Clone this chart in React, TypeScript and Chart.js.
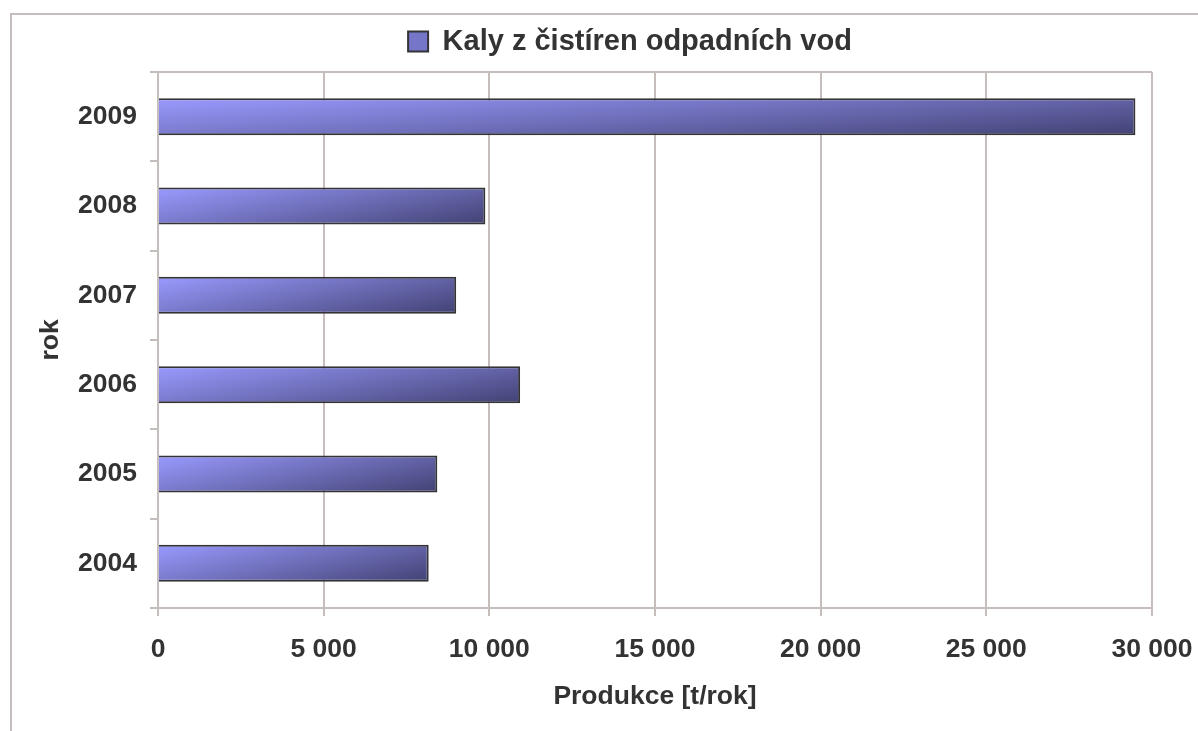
import React, { useEffect, useRef } from "react";
import { Chart, registerables } from "chart.js";

Chart.register(...registerables);

// ---- data ----
const years = ["2004", "2005", "2006", "2007", "2008", "2009"];
const production = [8170, 8430, 10930, 9000, 9880, 29500];
const seriesLabel = "Kaly z čistíren odpadních vod";
const xTickLabels = ["0", "5 000", "10 000", "15 000", "20 000", "25 000", "30 000"];
const xAxisTitle = "Produkce [t/rok]";
const yAxisTitle = "rok";

// ---- style ----
const FONT = '"Liberation Sans", Arial, Helvetica, sans-serif';
const TEXT = "#333333";
const GRID = "#c6bdbd";
const BAR_PCT = 0.414;
const FS = 26.5;

const barFill = (ctx: any) => {
  const chart = ctx.chart;
  const fallback = "#7a7ad0";
  if (ctx.type !== "data") return fallback;
  const xs = chart.scales?.x;
  const ys = chart.scales?.y;
  if (!xs || !ys || !chart.chartArea) return fallback;
  const v = ctx.raw as number;
  const x0 = xs.getPixelForValue(0);
  const x1 = xs.getPixelForValue(v);
  const yc = ys.getPixelForValue(ctx.dataIndex);
  const band = ((ys.bottom - ys.top) / years.length) * BAR_PCT;
  const yt = yc - band / 2;
  const w = Math.max(1, x1 - x0);
  const h = Math.max(1, band);
  const A = 52;
  const B = 30;
  const gx = A / w;
  const gy = B / h;
  const k = (A + B) / (gx * gx + gy * gy);
  const g = chart.ctx.createLinearGradient(x0, yt, x0 + k * gx, yt + k * gy);
  g.addColorStop(0, "#9a9aff");
  g.addColorStop(1, "#424274");
  return g;
};

const outerFrame = {
  id: "outerFrame",
  beforeDraw(chart: any) {
    const c = chart.ctx;
    c.save();
    c.strokeStyle = GRID;
    c.lineWidth = 2;
    c.beginPath();
    c.moveTo(11, chart.height + 10);
    c.lineTo(11, 14);
    c.lineTo(chart.width + 10, 14);
    c.stroke();
    c.restore();
  },
};

export default function App() {
  const ref = useRef<HTMLCanvasElement | null>(null);

  useEffect(() => {
    if (!ref.current) return;
    const chart = new Chart(ref.current, {
      type: "bar",
      data: {
        labels: years,
        datasets: [
          {
            label: seriesLabel,
            data: production,
            backgroundColor: barFill as any,
            borderColor: "#333338",
            borderWidth: 2,
            barPercentage: BAR_PCT,
            categoryPercentage: 1,
          },
        ],
      },
      plugins: [outerFrame],
      options: {
        indexAxis: "y",
        responsive: false,
        animation: false,
        devicePixelRatio: 1,
        layout: { padding: { left: 72, right: 10, top: 17, bottom: 0 } },
        plugins: {
          legend: {
            display: true,
            position: "top",
            align: "center",
            labels: {
              color: TEXT,
              font: { family: FONT, size: 29, weight: "bold" },
              boxWidth: 20,
              boxHeight: 20,
              padding: 10,
              generateLabels: (ch: any) =>
                Chart.defaults.plugins.legend.labels.generateLabels(ch).map((l: any) => ({
                  ...l,
                  fillStyle: "#7676c8",
                  strokeStyle: "#333338",
                  lineWidth: 2,
                })),
            },
          },
          title: {
            display: true,
            text: "",
            weight: 500,
            font: { size: 4, lineHeight: 1 },
            padding: { top: 1, bottom: 1 },
          } as any,
          tooltip: { enabled: false },
        },
        scales: {
          x: {
            type: "linear",
            position: "bottom",
            min: 0,
            max: 30000,
            afterFit: (s: any) => {
              s.height = 123;
            },
            ticks: {
              stepSize: 5000,
              color: TEXT,
              padding: 5.5,
              font: { family: FONT, size: FS, weight: "bold", lineHeight: "57px" },
              callback: (_v: any, i: number) => xTickLabels[i],
            },
            grid: {
              color: GRID,
              lineWidth: 2,
              tickLength: 8,
              tickColor: GRID,
            },
            border: { display: true, color: GRID, width: 2 },
            title: {
              display: true,
              text: xAxisTitle,
              color: TEXT,
              font: { family: FONT, size: FS, weight: "bold" },
              padding: { top: 0, bottom: 18 },
            },
          },
          y: {
            type: "category",
            position: "left",
            reverse: true,
            afterFit: (s: any) => {
              s.width = 86;
            },
            ticks: {
              color: TEXT,
              padding: 13,
              font: { family: FONT, size: FS, weight: "bold" },
            },
            grid: {
              offset: true,
              drawOnChartArea: true,
              color: (c: any) => (c.type !== "tick" || c.index === 0 ? GRID : "rgba(0,0,0,0)"),
              lineWidth: 2,
              tickLength: 8,
              tickColor: GRID,
            },
            border: { display: true, color: GRID, width: 2 },
            title: {
              display: true,
              text: yAxisTitle,
              color: TEXT,
              font: { family: FONT, size: FS, weight: "bold" },
              padding: { top: -37, bottom: 0 },
            },
          },
        },
      } as any,
    });
    return () => chart.destroy();
  }, []);

  return (
    <div style={{ position: "absolute", left: 0, top: 0, width: 1198, height: 731, background: "#ffffff" }}>
      <canvas ref={ref} width={1198} height={731} style={{ display: "block" }} />
    </div>
  );
}
